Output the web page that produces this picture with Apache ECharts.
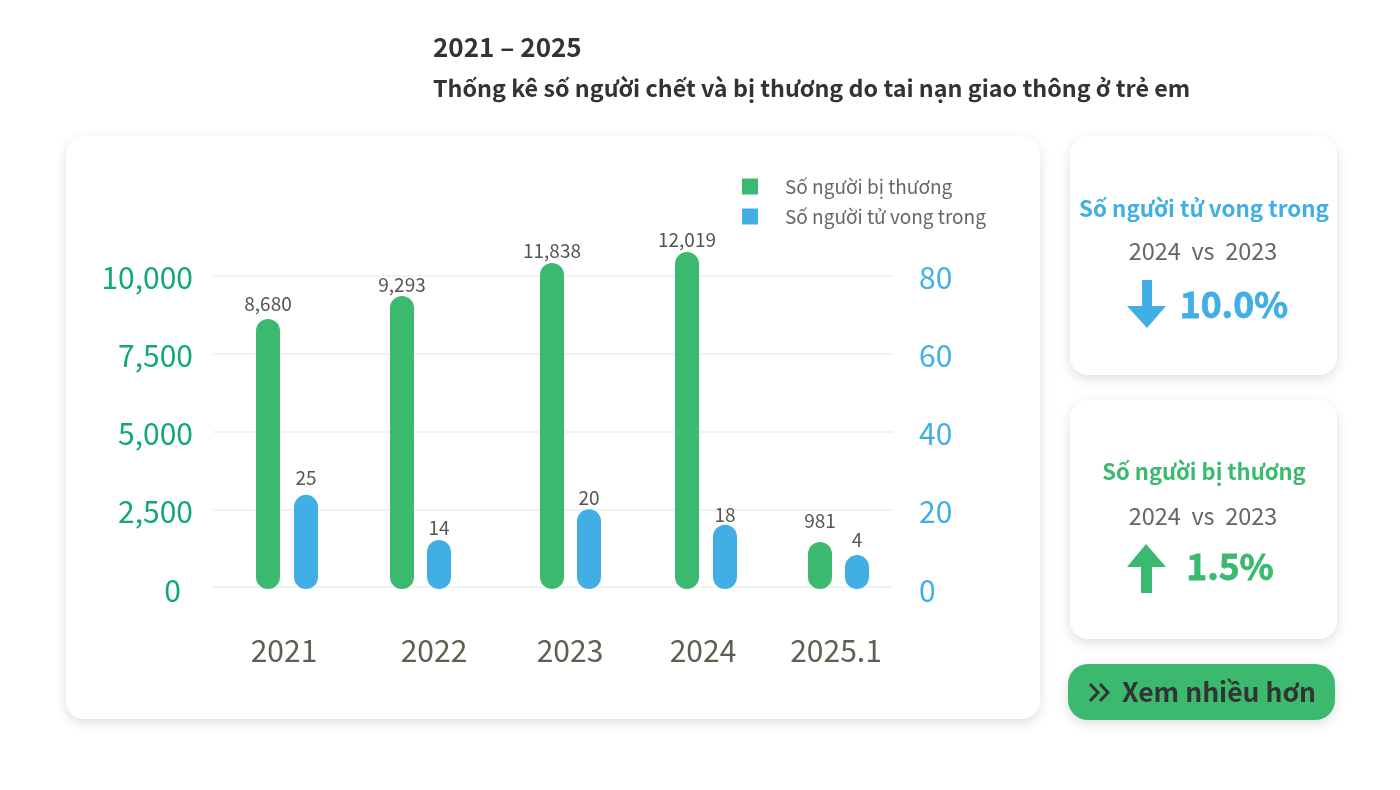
<!DOCTYPE html>
<html>
<head>
<meta charset="utf-8">
<title>Thống kê tai nạn giao thông ở trẻ em</title>
<style>
html, body { margin: 0; padding: 0; background: #fff; }
#main { width: 1400px; height: 790px; }
</style>
<script src="https://cdn.jsdelivr.net/npm/echarts@6/dist/echarts.min.js"></script>
</head>
<body>
<div id="main"></div>
<script>
// data
var years = ['2021', '2022', '2023', '2024', '2025.1'];
// printed numbers
var injuredLabels = ['8,680', '9,293', '11,838', '12,019', '981'];
var deathLabels = ['25', '14', '20', '18', '4'];
// bar heights as the picture draws them against its axes (not to scale with the printed numbers)
var injuredHeights = [8620, 9360, 10420, 10770, 1450];
var deathHeights = [23.7, 12.1, 20, 16, 8.2];
var leftTicks = [0, 2500, 5000, 7500, 10000];
var rightTicks = [0, 20, 40, 60, 80];

var FONT = '"Noto Sans CJK JP", "Noto Sans", sans-serif';
var GREEN = '#3bba6f', BLUE = '#41afe5';

// the reference does not space its groups evenly, so px shifts from the category centre
var greenShift = [-13, -15, -1, -2, -5];
var blueShift = [25, 22, 36, 36, 32];
var labelShift = [6, 34, 34, 28, 22];
// gap in px between a bar top and its number
var greenGap = [6, 2, 3, 3, 12];
var blueGap = [8, 3, 2, 1, 6];

function barSeries(name, values, labels, color, shift, gap, yIndex) {
    return {
        name: name,
        type: 'custom',
        yAxisIndex: yIndex,
        clip: false,
        z: 3,
        itemStyle: { color: color },
        data: values.map(function (v, i) { return [i, v]; }),
        encode: { x: 0, y: 1 },
        renderItem: function (params, api) {
            var i = api.value(0);
            var top = api.coord([i, api.value(1)]);
            var base = api.coord([i, 0]);
            return {
                type: 'rect',
                shape: { x: top[0] + shift[i] - 12, y: top[1], width: 24, height: base[1] + 2 - top[1], r: 12 },
                style: { fill: color },
                textContent: {
                    style: { text: labels[i], fill: '#555', font: '19px ' + FONT }
                },
                textConfig: { position: 'top', distance: gap[i] }
            };
        }
    };
}

function card(x, y, w, h, r, fill) {
    return {
        type: 'rect',
        z: 0,
        shape: { x: x, y: y, width: w, height: h, r: r },
        style: { fill: fill, shadowBlur: 12, shadowOffsetY: 4, shadowColor: 'rgba(0,0,0,0.13)' }
    };
}

function label(x, y, text, size, weight, color, heavy) {
    return {
        type: 'text',
        z: 1,
        x: x,
        y: y,
        style: {
            text: text,
            fill: color,
            stroke: heavy ? color : null,
            lineWidth: heavy ? 0.8 : 0,
            align: 'center',
            verticalAlign: 'middle',
            font: weight + ' ' + size + 'px ' + FONT
        }
    };
}

function arrow(points, color) {
    return { type: 'polygon', z: 1, shape: { points: points }, style: { fill: color } };
}

function chevron(x) {
    return {
        type: 'polyline',
        z: 1,
        shape: { points: [[x, 684], [x + 8, 692.5], [x, 701]] },
        style: { stroke: '#333', lineWidth: 3, fill: null }
    };
}

var rich = {};
labelShift.forEach(function (s, i) {
    rich['p' + i] = { padding: [0, 0, 0, s], fontSize: 30, color: '#5f5f50', fontFamily: FONT };
});

// tick numbers sit a little under their lines, the 0 lower still
function tickRich(color, zeroRight) {
    return {
        n: { fontSize: 30, color: color, fontFamily: FONT, padding: [4, 0, 0, 0] },
        z: { fontSize: 30, color: color, fontFamily: FONT, padding: [8, zeroRight, 0, 0] }
    };
}
function tickFormatter(v) {
    return v === 0 ? '{z|0}' : '{n|' + v.toLocaleString('en-US') + '}';
}

var option = {
    animation: false,
    backgroundColor: '#fff',
    textStyle: { fontFamily: FONT },
    title: [
        { text: '2021 – 2025', left: 433, top: 34, padding: 0, textStyle: { fontSize: 26, fontWeight: 'bold', color: '#333', fontFamily: FONT } },
        { text: 'Thống kê số người chết và bị thương do tai nạn giao thông ở trẻ em', left: 433, top: 77, padding: 0, textStyle: { fontSize: 23.3, fontWeight: 'bold', color: '#333', fontFamily: FONT } }
    ],
    legend: {
        orient: 'vertical',
        left: 737,
        top: 172,
        itemWidth: 16,
        itemHeight: 16,
        itemGap: 11,
        icon: 'rect',
        data: ['Số người bị thương', 'Số người tử vong trong'],
        textStyle: { fontSize: 19, color: '#666', padding: [0, 0, 0, 22], fontFamily: FONT }
    },
    grid: { left: 213, right: 507, top: 276, bottom: 203 },
    xAxis: {
        type: 'category',
        data: years,
        axisLine: { show: false },
        axisTick: { show: false },
        axisLabel: {
            margin: 49,
            interval: 0,
            rich: rich,
            formatter: function (value, index) { return '{p' + index + '|' + value + '}'; }
        }
    },
    yAxis: [
        {
            type: 'value',
            min: leftTicks[0],
            max: leftTicks[leftTicks.length - 1],
            interval: leftTicks[1] - leftTicks[0],
            axisLine: { show: false },
            axisTick: { show: false },
            splitLine: { lineStyle: { color: '#eee', width: 1.5 } },
            axisLabel: { margin: 20, rich: tickRich('#10a96f', 12), formatter: tickFormatter }
        },
        {
            type: 'value',
            position: 'right',
            min: rightTicks[0],
            max: rightTicks[rightTicks.length - 1],
            interval: rightTicks[1] - rightTicks[0],
            axisLine: { show: false },
            axisTick: { show: false },
            splitLine: { show: false },
            axisLabel: { margin: 26, rich: tickRich(BLUE, 0), formatter: tickFormatter }
        }
    ],
    graphic: [
        card(66, 136, 974, 583, 18, '#fff'),
        card(1070, 136, 267, 239, 18, '#fff'),
        card(1070, 400, 267, 239, 18, '#fff'),
        card(1068, 664, 267, 56, 20, GREEN),

        label(1204, 208, 'Số người tử vong trong', 22.4, 'bold', BLUE),
        label(1203, 251, '2024  vs  2023', 23.5, 'normal', '#666'),
        arrow([[1142, 280], [1152, 280], [1152, 306], [1166, 306], [1147, 328], [1127, 306], [1142, 306]], BLUE),
        label(1234, 305, '10.0%', 35.5, 'bold', BLUE, true),

        label(1204, 472, 'Số người bị thương', 22, 'bold', GREEN),
        label(1203, 516, '2024  vs  2023', 23.5, 'normal', '#666'),
        arrow([[1141, 593], [1152, 593], [1152, 567], [1166, 567], [1146, 544], [1127, 567], [1141, 567]], GREEN),
        label(1230, 567, '1.5%', 35.5, 'bold', GREEN, true),

        chevron(1090),
        chevron(1100),
        label(1219, 692, 'Xem nhiều hơn', 26.5, 'bold', '#333')
    ],
    series: [
        barSeries('Số người bị thương', injuredHeights, injuredLabels, GREEN, greenShift, greenGap, 0),
        barSeries('Số người tử vong trong', deathHeights, deathLabels, BLUE, blueShift, blueGap, 1)
    ]
};

var chart = echarts.init(document.getElementById('main'));
chart.setOption(option);
</script>
</body>
</html>
